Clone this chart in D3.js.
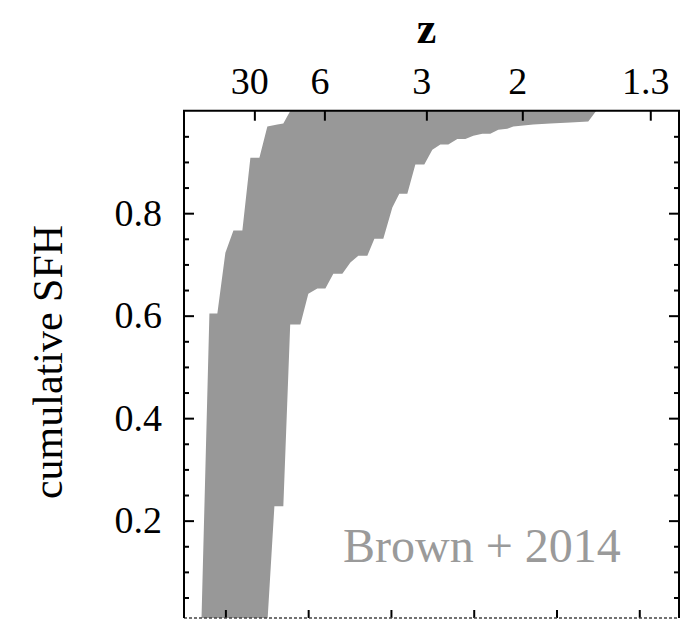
<!DOCTYPE html>
<html>
<head>
<meta charset="utf-8">
<script src="https://cdn.jsdelivr.net/npm/d3@7"></script>
<style>
  body { margin: 0; background: #fff; }
  text { font-family: "Liberation Serif", "Times New Roman", serif; fill: #000; }
  .axis path.domain { display: none; }
  .axis line { stroke: #000; stroke-width: 2; }
</style>
</head>
<body>
<div id="chart"></div>
<script>
// left edge of the band (fastest build-up): [time, cumulative SFH]
let fastTime = [0.71, 0.807, 0.903, 1.0, 1.097, 1.205, 1.302, 1.411, 1.507, 1.628, 1.70, 1.785];
let fastSFH  = [0.0, 0.604, 0.604, 0.723, 0.766, 0.766, 0.908, 0.908, 0.969, 0.973, 0.975, 1.0];

// right edge of the band (slowest build-up)
let slowTime = [1.507, 1.592, 1.70, 1.783, 1.906, 2.002, 2.111, 2.208, 2.304, 2.413, 2.51, 2.606,
  2.715, 2.80, 2.908, 3.017, 3.101, 3.198, 3.295, 3.403, 3.50, 3.597, 3.693, 3.802, 3.899, 3.995,
  4.104, 4.20, 4.297, 4.405, 4.478, 4.72, 4.925, 5.167, 5.384, 5.481];
let slowSFH  = [0.0, 0.228, 0.228, 0.583, 0.583, 0.643, 0.653, 0.653, 0.682, 0.682, 0.704, 0.717,
  0.717, 0.75, 0.75, 0.811, 0.838, 0.838, 0.895, 0.895, 0.924, 0.934, 0.934, 0.945, 0.945, 0.951,
  0.955, 0.955, 0.963, 0.965, 0.969, 0.973, 0.975, 0.977, 0.979, 1.0];

// redshift ticks on the top axis and where they sit on the time axis
let zLabels = ['30', '6', '3', '2', '1.3'];
let zTime = [1.35, 2.196, 3.428, 4.587, 6.133];

let timeTicks = [1, 2, 3, 4, 5, 6];
let sfhMajor = [0.2, 0.4, 0.6, 0.8];
let sfhMinor = [0.05, 0.1, 0.15, 0.25, 0.3, 0.35, 0.45, 0.5, 0.55, 0.65, 0.7, 0.75, 0.85, 0.9, 0.95];

let margin = {top: 110.7, right: 16, bottom: 1, left: 184};
let width = 695 - margin.left - margin.right;
let height = 618 - margin.top;

let xScale = d3.scaleLinear()
  .domain([0.5, 6.48])
  .range([0, width]);

let yScale = d3.scaleLinear()
  .domain([0.01, 1])
  .range([height, 0]);

let svg = d3.select('#chart')
  .append('svg')
  .attr('width', 695)
  .attr('height', 619)
  .append('g')
  .attr('transform', 'translate(' + margin.left + ',' + margin.top + ')');

svg.append('clipPath')
  .attr('id', 'clip')
  .append('rect')
  .attr('width', width)
  .attr('height', height);

// band = fast edge going up, slow edge coming back down
let fast = fastTime.map((t, i) => [t, fastSFH[i]]);
let slow = slowTime.map((t, i) => [t, slowSFH[i]]);
let band = fast.concat(slow.slice().reverse());

let line = d3.line()
  .x(d => xScale(d[0]))
  .y(d => yScale(d[1]));

svg.append('path')
  .attr('clip-path', 'url(#clip)')
  .attr('d', line(band) + 'Z')
  .attr('fill', '#989898');

// left axis
svg.append('g')
  .attr('class', 'axis')
  .call(d3.axisLeft(yScale).tickValues(sfhMinor).tickSize(-5).tickFormat(''));
svg.append('g')
  .attr('class', 'axis')
  .call(d3.axisLeft(yScale).tickValues(sfhMajor).tickSize(-10).tickPadding(22)
    .tickFormat(d3.format('.1f')))
  .selectAll('text')
  .style('font-size', '38px');

// right axis
svg.append('g')
  .attr('class', 'axis')
  .attr('transform', 'translate(' + width + ',0)')
  .call(d3.axisRight(yScale).tickValues(sfhMinor).tickSize(-5).tickFormat(''));
svg.append('g')
  .attr('class', 'axis')
  .attr('transform', 'translate(' + width + ',0)')
  .call(d3.axisRight(yScale).tickValues(sfhMajor).tickSize(-10).tickFormat(''));

// top axis in redshift
svg.append('g')
  .attr('class', 'axis')
  .call(d3.axisTop(xScale).tickValues(zTime).tickSize(-10).tickPadding(17)
    .tickFormat((d, i) => zLabels[i]))
  .selectAll('text')
  .attr('dx', -5)
  .style('font-size', '38px');

// bottom axis (cut off by the frame)
svg.append('g')
  .attr('class', 'axis')
  .attr('transform', 'translate(0,' + height + ')')
  .call(d3.axisBottom(xScale).tickValues(timeTicks).tickSize(-8).tickFormat(''));

svg.append('line')
  .attr('x1', 0)
  .attr('x2', width)
  .attr('y1', height)
  .attr('y2', height)
  .attr('stroke', '#444')
  .attr('stroke-width', 1.5)
  .attr('stroke-dasharray', '3,2');

// frame: left, top, right
svg.append('path')
  .attr('d', 'M0,' + height + 'V0H' + width + 'V' + height)
  .attr('fill', 'none')
  .attr('stroke', '#000')
  .attr('stroke-width', 2);

svg.append('text')
  .attr('text-anchor', 'middle')
  .attr('x', xScale(3.43))
  .attr('y', 43 - margin.top)
  .style('font-size', '44px')
  .style('font-weight', 'bold')
  .text('z');

svg.append('text')
  .attr('text-anchor', 'middle')
  .attr('transform', 'translate(' + (62 - margin.left) + ',' + (362 - margin.top) + ') rotate(-90)')
  .style('font-size', '42px')
  .text('cumulative SFH');

svg.append('text')
  .attr('x', 343 - margin.left)
  .attr('y', 562 - margin.top)
  .style('font-size', '48px')
  .style('fill', '#9a9a9a')
  .text('Brown + 2014');
</script>
</body>
</html>
